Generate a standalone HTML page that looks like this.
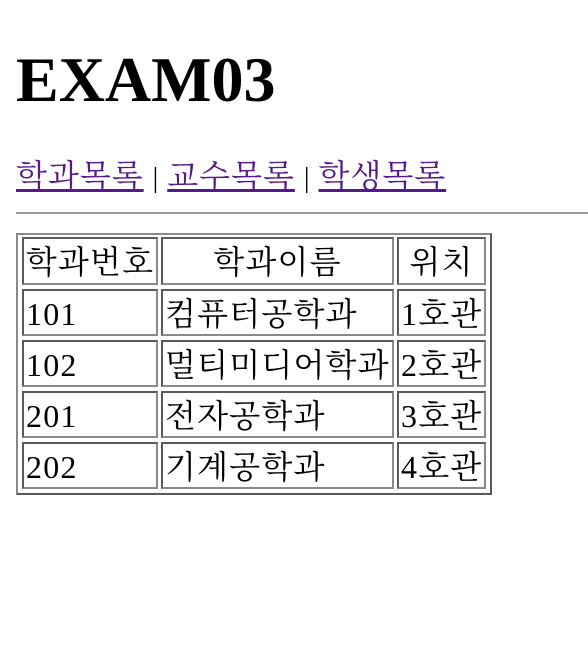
<!DOCTYPE html>
<html><head><meta charset="utf-8"><style>
html,body{margin:0;padding:0;background:#fff;width:588px;height:662px;overflow:hidden;position:relative;font-family:"Liberation Serif","Noto Serif CJK SC",serif;color:#000}
h1{position:absolute;left:16px;top:43px;margin:0;font-size:64px;font-weight:bold;line-height:74px}
.nav{position:absolute;left:16px;top:158px;font-size:32px;line-height:37px;white-space:nowrap}
.nav a{color:#551A8B;text-decoration:underline;letter-spacing:1px}
.sep{font-size:28px;margin:0 1px}
hr{position:absolute;left:16px;top:212px;width:572px;margin:0;border:0;border-top:2px solid #9a9a9a;height:0}
.tbl{position:absolute;left:16px;top:233px;width:472px;height:258px;border:2px solid;border-color:#8a8a8a #5a5a5a #5a5a5a #8a8a8a}
.c{position:absolute;box-sizing:border-box;border:2px solid;border-color:#5a5a5a #8a8a8a #8a8a8a #5a5a5a;font-size:32px;line-height:40px;padding-top:3px;padding-left:2px;white-space:nowrap;overflow:hidden;letter-spacing:1.2px}
.h{text-align:center;padding-left:0}
</style></head><body>
<h1>EXAM03</h1>
<div class="nav"><a>학과목록</a> <span class="sep">|</span> <a>교수목록</a> <span class="sep">|</span> <a>학생목록</a></div>
<hr>
<div class="tbl">
<div class="c h" style="left:4px;top:2px;width:136px;height:48px">학과번호</div>
<div class="c h" style="left:143px;top:2px;width:233px;height:48px">학과이름</div>
<div class="c h" style="left:379px;top:2px;width:89px;height:48px">위치</div>

<div class="c" style="left:4px;top:54px;width:136px;height:47px">101</div>
<div class="c" style="left:143px;top:54px;width:233px;height:47px">컴퓨터공학과</div>
<div class="c" style="left:379px;top:54px;width:89px;height:47px">1호관</div>

<div class="c" style="left:4px;top:105px;width:136px;height:47px">102</div>
<div class="c" style="left:143px;top:105px;width:233px;height:47px">멀티미디어학과</div>
<div class="c" style="left:379px;top:105px;width:89px;height:47px">2호관</div>

<div class="c" style="left:4px;top:156px;width:136px;height:47px">201</div>
<div class="c" style="left:143px;top:156px;width:233px;height:47px">전자공학과</div>
<div class="c" style="left:379px;top:156px;width:89px;height:47px">3호관</div>

<div class="c" style="left:4px;top:207px;width:136px;height:47px">202</div>
<div class="c" style="left:143px;top:207px;width:233px;height:47px">기계공학과</div>
<div class="c" style="left:379px;top:207px;width:89px;height:47px">4호관</div>
</div>
</body></html>
